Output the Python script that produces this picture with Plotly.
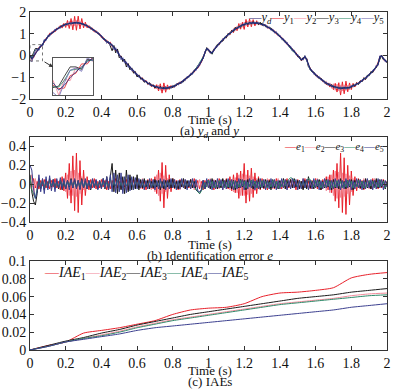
import numpy as np
import plotly.graph_objects as go

W, H = 395, 389

# ---------------- data ----------------
# sample times (s), 0.01 s step
time_s = np.linspace(0, 2, 201)

# desired output y_d (hundredths)
yd_c = [0, -15, -5, 10, 22, 33, 42, 50, 64, 76,
        86, 97, 101, 110, 114, 122, 125, 132, 134, 141,
        141, 146, 146, 150, 148, 152, 149, 151, 147, 148,
        142, 141, 135, 132, 125, 122, 114, 110, 102, 97,
        87, 81, 71, 65, 58, 56, 44, 38, 27, 20,
        1, -8, -20, -27, -38, -45, -56, -63, -73, -79,
        -89, -95, -104, -108, -117, -120, -128, -130, -137, -139,
        -144, -144, -148, -148, -150, -151, -149, -150, -146, -146,
        -142, -141, -135, -132, -126, -122, -115, -110, -102, -97,
        -87, -81, -71, -65, -55, -44, -30, -10, 12, 33,
        26, 15, 12, 25, 37, 46, 55, 64, 72, 80,
        87, 97, 102, 110, 115, 122, 126, 132, 135, 141,
        142, 146, 146, 150, 149, 151, 148, 150, 148, 147,
        143, 140, 137, 130, 128, 121, 117, 108, 104, 95,
        89, 79, 73, 63, 56, 45, 38, 27, 20, 8,
        -1, -10, -20, -15, -5, -18, -45, -62, -72, -81,
        -88, -96, -102, -110, -115, -122, -126, -132, -135, -141,
        -142, -146, -146, -150, -149, -151, -148, -150, -147, -148,
        -143, -140, -137, -130, -128, -121, -117, -108, -104, -95,
        -89, -79, -73, -63, -50, -40, -5, -2, -15, -25,
        -30]

# identification errors e_1..e_5 (hundredths)
e1_c = [5, -3, 6, -4, 3, -5, 4, -2, 5, -4,
        3, -5, 4, -3, 6, -4, 3, -6, 8, -7,
        12, -15, 22, -20, 30, -28, 33, -30, 25, -22,
        15, -12, 8, -6, 5, -4, 6, -5, 3, -4,
        5, -3, 4, -6, 3, -5, 4, -3, 6, -4,
        3, -5, 4, -3, 5, -6, 4, -3, 5, -4,
        6, -4, 3, -5, 4, -6, 5, -3, 6, -5,
        8, -10, 15, -18, 23, -25, 20, -15, 10, -8,
        6, -5, 4, -6, 5, -3, 4, -5, 3, -4,
        5, -4, 6, -3, 4, -5, 3, -6, 4, -3,
        5, -4, 3, -6, 4, -5, 6, -3, 5, -4,
        6, -5, 8, -7, 10, -9, 12, -15, 14, -12,
        22, -20, 15, -18, 17, -14, 12, -10, 8, -6,
        6, -5, 4, -6, 5, -3, 4, -5, 6, -4,
        3, -5, 4, -3, 6, -4, 5, -3, 4, -6,
        5, -4, 3, -5, 6, -4, 3, -5, 4, -3,
        6, -5, 4, -6, 5, -4, 8, -6, 10, -9,
        15, -18, 22, -25, 33, -30, 28, -32, 20, -22,
        14, -12, 8, -7, 6, -5, 4, -6, 5, -3,
        4, -5, 6, -3, 4, -5, 3, -4, 5, -3,
        3]
e2_c = [-5, 10, -12, 6, -8, 5, -4, 6, -3, 4,
        -4, 3, -5, 4, -3, 5, -4, 3, -5, 6,
        -8, 10, -12, 14, -12, 15, -13, 12, -10, 8,
        -6, 5, -4, 3, -5, 4, -3, 5, -4, 3,
        -5, 4, -3, 6, -4, 3, -5, 4, -6, 3,
        -4, 5, -3, 4, -6, 3, -5, 4, -3, 5,
        -4, 3, -5, 6, -4, 3, -5, 4, -6, 5,
        -8, 10, -12, 12, -10, 9, -8, 6, -5, 4,
        -3, 5, -4, 3, -6, 4, -3, 5, -4, 3,
        -5, 4, -6, 3, -4, 5, -3, 4, -5, 3,
        -4, 6, -3, 5, -4, 3, -5, 4, -6, 3,
        -5, 4, -6, 5, -8, 7, -9, 10, -12, 11,
        -12, 10, -11, 9, -10, 8, -7, 6, -5, 4,
        -3, 5, -4, 6, -3, 4, -5, 3, -4, 6,
        -5, 3, -4, 5, -6, 4, -3, 5, -4, 3,
        -5, 4, -3, 6, -4, 5, -3, 4, -5, 3,
        -4, 6, -5, 3, -4, 5, -7, 8, -9, 10,
        -12, 14, -15, 13, -14, 12, -13, 11, -10, 9,
        -8, 6, -5, 4, -3, 5, -4, 6, -3, 4,
        -5, 3, -4, 6, -5, 4, -3, 5, -4, 3,
        -3]
e3_c = [10, -8, -18, -22, -10, 6, -5, 4, -6, 5,
        -4, 6, -3, 5, -4, 3, -5, 4, -6, 3,
        -5, 4, -3, 6, -4, 5, -3, 4, -5, 6,
        -4, 3, -5, 4, -6, 5, -3, 4, -5, 3,
        -4, 6, -5, 8, -6, 10, 22, -8, 15, -10,
        12, -6, 8, -10, 15, -8, 10, -6, 8, -5,
        10, -6, 5, -4, 6, -3, 4, -5, 3, -4,
        5, -3, 4, -6, 3, -5, 4, -3, 5, -4,
        6, -4, 3, -5, 4, -3, 6, -5, 4, -3,
        5, -4, 3, -6, -8, -10, -6, 4, -5, 3,
        4, -5, 6, -3, 4, -5, 3, -4, 6, -3,
        5, -4, 3, -5, 4, -6, 3, -4, 5, -3,
        4, -6, 5, -3, 4, -5, 3, -4, 6, -5,
        3, -4, 5, -3, 4, -6, 5, -4, 3, -5,
        4, -3, 6, -5, 4, -3, 5, -4, 6, -3,
        4, -5, 3, -6, 4, -5, 8, -4, 3, -5,
        4, -3, 5, -6, 3, -4, 5, -3, 4, -6,
        5, -4, 3, -5, 6, -4, 3, -5, 4, -3,
        5, -6, 4, -3, 5, -4, 3, -5, 6, -4,
        3, -5, 4, -3, 6, -4, 5, -3, 4, -5,
        3]
e4_c = [8, -6, -10, -15, -5, 4, -3, 5, -4, 3,
        -3, 4, -2, 3, -4, 2, -3, 4, -2, 3,
        -4, 3, -2, 4, -3, 2, -4, 3, -2, 4,
        -3, 2, -4, 3, -2, 4, -3, 2, -3, 4,
        -2, 3, -4, 2, -3, 6, -4, 3, -2, 4,
        -3, 2, -4, 3, -2, 4, -3, 2, -4, 3,
        -2, 4, -3, 2, -4, 3, -2, 4, -3, 2,
        -4, 3, -2, 4, -3, 2, -4, 3, -2, 4,
        -3, 2, -4, 3, -2, 4, -3, 2, -4, 3,
        -2, 4, -3, -5, -8, -10, -7, -4, 2, -3,
        4, -2, 3, -4, 2, -3, 4, -2, 3, -4,
        2, -3, 4, -2, 3, -4, 2, -3, 4, -2,
        3, -4, 2, -3, 4, -2, 3, -4, 2, -3,
        4, -2, 3, -4, 2, -3, 4, -2, 3, -4,
        2, -3, 4, -2, 3, 5, 7, 6, 4, 2,
        -3, 4, -2, 3, -4, 4, 6, 5, 2, -3,
        4, -2, 3, -4, 2, -3, 4, -2, 3, -4,
        2, -3, 4, -2, 3, -4, 2, -3, 4, -2,
        3, -4, 2, -3, 4, -2, 3, -4, 2, -3,
        4, -2, 3, -4, 2, -3, 4, -2, 3, -4,
        2]
e5_c = [20, 15, -5, -15, -8, 10, -8, 6, -10, 8,
        -6, 9, -7, 5, -8, 6, -4, 7, -5, 6,
        -5, 4, -6, 5, -4, 6, -5, 4, -6, 5,
        -4, 6, -5, 4, -5, 6, -4, 5, -6, 4,
        -5, 6, -4, 8, -6, 10, -8, 12, -9, 10,
        -8, 12, -10, 8, -9, 10, -7, 8, -6, 7,
        -5, 6, -4, 5, -6, 4, -5, 6, -4, 5,
        -6, 4, -5, 6, -4, 5, -6, 4, -5, 6,
        -4, 5, -6, 4, -5, 6, -4, 5, -6, 4,
        -5, 6, -4, 5, -7, -8, -6, 4, -5, 6,
        -4, 5, -6, 4, -5, 6, -4, 5, -6, 4,
        -5, 6, -4, 5, -6, 4, -5, 6, -4, 5,
        -6, 4, -5, 6, -4, 5, -6, 4, -5, 6,
        -4, 5, -6, 4, -5, 6, -4, 5, -6, 4,
        -5, 6, -4, 5, -6, 4, -5, 6, -4, 5,
        -6, 4, -5, 6, -4, 5, -6, 4, -5, 6,
        -4, 5, -6, 4, -5, 6, -4, 5, -6, 4,
        -5, 6, -4, 5, -6, 4, -5, 6, -4, 5,
        -6, 4, -5, 6, -4, 5, -6, 4, -5, 6,
        -4, 5, -6, 4, -5, 6, -4, 5, -6, 4,
        -3]

# IAEs (thousandths), read every 0.1 s
iae_time = [0.0, 0.1, 0.2, 0.3, 0.4, 0.5, 0.6, 0.7, 0.8, 0.9, 1.0,
            1.1, 1.2, 1.3, 1.4, 1.5, 1.6, 1.7, 1.8, 1.9, 2.0]
iae1_m = [0, 5, 9, 19, 22, 25, 29, 33, 40, 45, 47, 48, 52, 60, 64, 65, 67, 70, 81, 85, 87]
iae2_m = [0, 4, 9, 13, 17, 21, 26, 30, 34, 37, 40, 43, 46, 49, 52, 54, 56, 58, 61, 63, 64]
iae3_m = [0, 5, 10, 14, 19, 23, 28, 32, 36, 40, 43, 46, 49, 52, 55, 58, 60, 62, 65, 67, 69]
iae4_m = [0, 4, 9, 13, 16, 20, 25, 29, 33, 36, 39, 42, 45, 48, 51, 53, 55, 57, 59, 61, 62]
iae5_m = [0, 4, 9, 12, 15, 18, 22, 25, 27, 29, 31, 33, 35, 37, 39, 41, 43, 45, 48, 50, 52]

# ---------------- derived ----------------
yd = np.array(yd_c) / 100.0
errs = [np.array(e) / 100.0 for e in (e1_c, e2_c, e3_c, e4_c, e5_c)]
ys = [yd - e for e in errs]
iaes = [np.array(v) / 1000.0 for v in (iae1_m, iae2_m, iae3_m, iae4_m, iae5_m)]

C_YD = "#1f2470"
COLS = ["#e8202a", "#f2899a", "#1a1a1a", "#2f8a6a", "#3b3f8f"]
C_Y5 = "#6a64b0"
FONT = "Liberation Serif, Times New Roman, serif"


def fx(p):
    return p / W


def fy(p):
    return 1 - p / H


fig = go.Figure()

# panel (a)
ycols = [COLS[0], COLS[1], COLS[2], COLS[3], C_Y5]
for i in range(5):
    fig.add_trace(go.Scatter(x=time_s, y=ys[i], mode="lines",
                             line=dict(color=ycols[i], width=1),
                             xaxis="x", yaxis="y", showlegend=False))
fig.add_trace(go.Scatter(x=time_s, y=yd, mode="lines",
                         line=dict(color=C_YD, width=1.1),
                         xaxis="x", yaxis="y", showlegend=False))
# inset
for i in range(5):
    fig.add_trace(go.Scatter(x=time_s[:10], y=ys[i][:10], mode="lines",
                             line=dict(color=ycols[i], width=0.8),
                             xaxis="x4", yaxis="y4", showlegend=False))
fig.add_trace(go.Scatter(x=time_s[:10], y=yd[:10], mode="lines",
                         line=dict(color=C_YD, width=0.8),
                         xaxis="x4", yaxis="y4", showlegend=False))

# panel (b)
for i in range(5):
    fig.add_trace(go.Scatter(x=time_s, y=errs[i], mode="lines",
                             line=dict(color=COLS[i], width=1),
                             xaxis="x2", yaxis="y2", showlegend=False))

# panel (c)
for i in range(5):
    fig.add_trace(go.Scatter(x=iae_time, y=iaes[i], mode="lines",
                             line=dict(color=COLS[i], width=1, shape="spline", smoothing=0.6),
                             xaxis="x3", yaxis="y3", showlegend=False))

axcommon = dict(showline=True, linecolor="#333", linewidth=1, mirror="ticks",
                ticks="inside", ticklen=4, tickcolor="#333", showgrid=False,
                zeroline=False, automargin=False,
                tickfont=dict(family=FONT, size=14, color="#111"))
xdom = [fx(30), fx(387)]
fig.update_layout(
    width=W, height=H, margin=dict(l=0, r=0, t=0, b=0, autoexpand=False),
    paper_bgcolor="white", plot_bgcolor="white", showlegend=False,
    xaxis=dict(domain=xdom, range=[0, 2], dtick=0.2, anchor="y", **axcommon),
    yaxis=dict(domain=[fy(99), fy(12)], range=[-2, 2], dtick=1, anchor="x", **axcommon),
    xaxis2=dict(domain=xdom, range=[0, 2], dtick=0.2, anchor="y2", **axcommon),
    yaxis2=dict(domain=[fy(222), fy(137)], range=[-0.4, 0.5],
                tickvals=[-0.4, -0.2, 0, 0.2, 0.4], anchor="x2", **axcommon),
    xaxis3=dict(domain=xdom, range=[0, 2], dtick=0.2, anchor="y3", **axcommon),
    yaxis3=dict(domain=[fy(350), fy(261)], range=[0, 0.1], dtick=0.02, anchor="x3", **axcommon),
    xaxis4=dict(domain=[fx(53), fx(93)], range=[0, 0.07], anchor="y4", automargin=False,
                showline=True, linecolor="#555", mirror=True, showticklabels=False,
                ticks="", showgrid=False, zeroline=False),
    yaxis4=dict(domain=[fy(95), fy(58)], range=[-0.25, 0.5], anchor="x4", automargin=False,
                showline=True, linecolor="#555", mirror=True, showticklabels=False,
                ticks="", showgrid=False, zeroline=False),
)

# dashed zoom box and arrow
fig.add_shape(type="rect", xref="x", yref="y", x0=0, x1=0.07, y0=-0.25, y1=0.5,
              line=dict(color="#777", width=1, dash="dot"))

anns = []
anns.append(dict(x=fx(53), y=fy(67), xref="paper", yref="paper", text="",
                 showarrow=True, arrowhead=2, arrowsize=0.8, arrowwidth=1,
                 arrowcolor="#333", ax=-10, ay=-6))


def lab(text, xp, yp, size=13, xanchor="center"):
    anns.append(dict(x=fx(xp), y=fy(yp), xref="paper", yref="paper", text=text,
                     showarrow=False, xanchor=xanchor, yanchor="middle",
                     font=dict(family=FONT, size=size, color="#111")))


lab("Time (s)", 210, 120)
lab("(a) <i>y</i><sub><i>d</i></sub> and <i>y</i>", 210, 131)
lab("Time (s)", 210, 244)
lab("(b) Identification error <i>e</i>", 210, 255)
lab("Time (s)", 210, 370)
lab("(c) IAEs", 210, 381)


def dash(c):
    return '<span style="color:%s">—</span>' % c


leg_a = (dash(C_YD) + "<i>y</i><sub><i>d</i></sub>" +
         "".join(dash(ycols[i]) + "<i>y</i><sub>%d</sub>" % (i + 1) for i in range(5)))
lab(leg_a, 386, 18, size=12.5, xanchor="right")
leg_b = "".join(dash(COLS[i]) + "<i>e</i><sub>%d</sub>" % (i + 1) for i in range(5))
lab(leg_b, 386, 147, size=11, xanchor="right")
leg_c = "".join(dash(COLS[i]) + "<i>IAE</i><sub>%d</sub>" % (i + 1) for i in range(5))
lab(leg_c, 42, 273, size=14, xanchor="left")

fig.update_layout(annotations=anns)
fig.write_html("out.html",
               config={"displayModeBar": False},
               post_script="document.body.style.margin='0';"
                           "document.body.style.overflow='hidden';")
